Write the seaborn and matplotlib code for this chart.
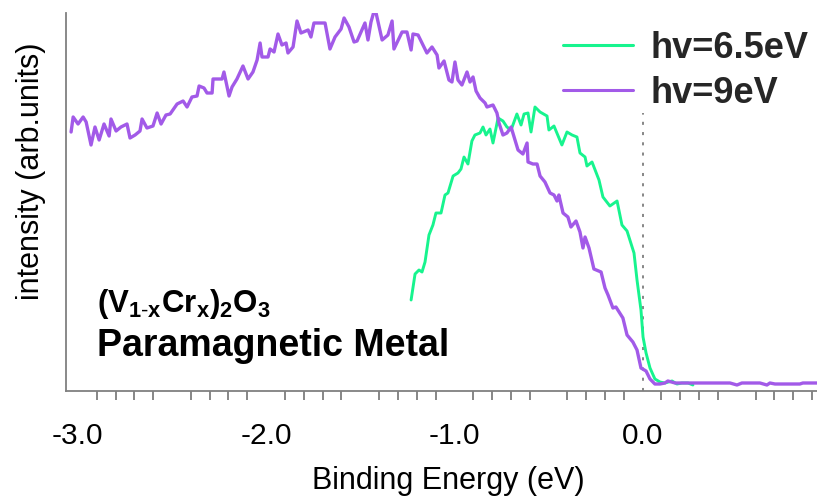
import matplotlib
matplotlib.use("Agg")
import matplotlib.pyplot as plt
from matplotlib.ticker import MultipleLocator, FuncFormatter
from matplotlib.lines import Line2D
import pandas as pd
import seaborn as sns

# Photoemission spectra of (V1-xCrx)2O3, binding energy in eV vs intensity (arb. units)
energy_9ev = [
    -3.036, -3.025, -2.999, -2.972, -2.956, -2.930, -2.909, -2.887, -2.861, -2.834,
    -2.824, -2.797, -2.771, -2.739, -2.723, -2.696, -2.670, -2.659, -2.633, -2.601,
    -2.579, -2.558, -2.532, -2.510, -2.473, -2.441, -2.420, -2.394, -2.367, -2.356,
    -2.330, -2.314, -2.287, -2.282, -2.234, -2.224, -2.197, -2.181, -2.155, -2.123,
    -2.096, -2.070, -2.048, -2.032, -2.022, -1.990, -1.979, -1.958, -1.937, -1.916,
    -1.894, -1.884, -1.857, -1.836, -1.815, -1.777, -1.762, -1.746, -1.687, -1.661,
    -1.634, -1.602, -1.586, -1.560, -1.533, -1.517, -1.475, -1.459, -1.443, -1.422,
    -1.384, -1.353, -1.331, -1.321, -1.278, -1.252, -1.230, -1.220, -1.193, -1.146,
    -1.119, -1.092, -1.082, -1.055, -1.029, -1.013, -0.997, -0.981, -0.960, -0.933,
    -0.917, -0.901, -0.885, -0.864, -0.837, -0.827, -0.795, -0.774, -0.763, -0.742,
    -0.721, -0.699, -0.678, -0.662, -0.636, -0.614, -0.609, -0.583, -0.561, -0.545,
    -0.519, -0.492, -0.471, -0.455, -0.445, -0.423, -0.397, -0.381, -0.354, -0.333,
    -0.317, -0.306, -0.285, -0.259, -0.221, -0.200, -0.184, -0.158, -0.142, -0.105,
    -0.083, -0.052, -0.030, -0.009, 0.018, 0.039, 0.065, 0.092, 0.118, 0.134,
    0.172, 0.225, 0.304, 0.384, 0.464, 0.501, 0.527, 0.623, 0.660, 0.676,
    0.703, 0.756, 0.835, 0.851, 0.926,
]
intensity_9ev = [
    259, 274, 267, 274, 269, 246, 264, 251, 267, 255,
    272, 260, 264, 267, 253, 256, 260, 272, 263, 265,
    278, 267, 276, 277, 287, 290, 284, 294, 295, 305,
    303, 298, 298, 312, 312, 319, 295, 304, 312, 325,
    312, 319, 331, 348, 334, 334, 342, 339, 357, 346,
    348, 338, 344, 370, 358, 361, 354, 368, 368, 342,
    354, 362, 373, 364, 349, 350, 368, 351, 369, 383,
    351, 356, 370, 342, 359, 359, 341, 357, 356, 338,
    344, 336, 323, 330, 311, 309, 329, 311, 306, 319,
    309, 314, 300, 293, 288, 284, 286, 278, 268, 256,
    258, 264, 251, 241, 237, 248, 229, 227, 227, 215,
    209, 198, 196, 190, 196, 178, 174, 164, 170, 159,
    143, 154, 143, 122, 119, 103, 96, 83, 84, 73,
    56, 49, 41, 23, 20, 12, 7, 7, 8, 10,
    8, 8, 8, 8, 8, 6, 8, 8, 6, 8,
    7, 7, 7, 8, 8,
]

energy_65ev = [
    -1.230, -1.209, -1.188, -1.172, -1.156, -1.135, -1.114, -1.098, -1.071, -1.050,
    -1.034, -1.007, -0.981, -0.965, -0.949, -0.928, -0.907, -0.891, -0.864, -0.848,
    -0.832, -0.811, -0.795, -0.768, -0.742, -0.721, -0.699, -0.668, -0.646, -0.630,
    -0.609, -0.593, -0.572, -0.545, -0.508, -0.498, -0.471, -0.429, -0.402, -0.375,
    -0.349, -0.333, -0.306, -0.296, -0.269, -0.232, -0.211, -0.174, -0.136, -0.110,
    -0.083, -0.046, -0.030, -0.009, 0.002, 0.018, 0.039, 0.065, 0.092, 0.118,
    0.156, 0.182, 0.209, 0.241, 0.267,
]
intensity_65ev = [
    91, 117, 121, 119, 129, 156, 166, 178, 178, 196,
    198, 215, 218, 222, 234, 227, 250, 256, 258, 264,
    256, 262, 248, 273, 270, 264, 261, 277, 266, 277,
    278, 259, 284, 279, 275, 261, 265, 246, 259, 256,
    254, 238, 234, 225, 229, 211, 194, 185, 190, 166,
    160, 138, 111, 81, 54, 38, 23, 12, 9, 8,
    10, 7, 8, 8, 6,
]

series_labels = ["hv=6.5eV", "hv=9eV"]
series_colors = ["#17F48E", "#A25AE8"]
fermi_level = 0.0
fermi_marker_top = 278

sns.set_theme(style="white")
plt.rcParams["font.family"] = ["Liberation Sans", "DejaVu Sans"]
plt.rcParams["axes.unicode_minus"] = False
plt.rcParams["mathtext.fontset"] = "custom"
plt.rcParams["mathtext.rm"] = "Liberation Sans"
plt.rcParams["mathtext.bf"] = "Liberation Sans:bold"
plt.rcParams["mathtext.it"] = "Liberation Sans:italic"

W, H = 817, 498
fig = plt.figure(figsize=(W / 100, H / 100), dpi=100)
ax = fig.add_axes([66 / W, 107 / H, (W - 66) / W, 378 / H])

df65 = pd.DataFrame({"energy": energy_65ev, "intensity": intensity_65ev})
df9 = pd.DataFrame({"energy": energy_9ev, "intensity": intensity_9ev})

sns.lineplot(data=df65, x="energy", y="intensity", ax=ax, color=series_colors[0],
             linewidth=2.1, estimator=None, sort=False)
sns.lineplot(data=df9, x="energy", y="intensity", ax=ax, color=series_colors[1],
             linewidth=2.4, estimator=None, sort=False)

# Fermi level marker
ax.vlines(fermi_level, 0, fermi_marker_top, colors="#666666", linewidth=1.1,
          linestyles=(0, (2, 4.7)), zorder=1)

ax.set_xlim(-3.063, 0.926)
ax.set_ylim(0, 378)

sns.despine(ax=ax, top=True, right=True)
for side in ("left", "bottom"):
    ax.spines[side].set_color("#808080")
    ax.spines[side].set_linewidth(1.3)

ax.set_yticks([])
ax.xaxis.set_major_locator(MultipleLocator(0.5))
ax.xaxis.set_minor_locator(MultipleLocator(0.1))
ax.xaxis.set_major_formatter(
    FuncFormatter(lambda v, p: f"{v:.1f}" if abs(v - round(v)) < 1e-6 else ""))
ax.tick_params(axis="x", which="major", direction="out", length=11.5, width=1.1,
               color="#666666", labelsize=21.5, pad=11, labelcolor="black")
ax.tick_params(axis="x", which="minor", direction="out", length=6.5, width=1.1,
               color="#666666", bottom=True)
fig.canvas.draw()
for t in ax.xaxis.get_major_ticks():
    v = t.get_loc()
    if abs(v - round(v)) > 1e-6:
        t.tick1line.set_markersize(8.5)

ax.set_xlabel("Binding Energy (eV)", fontsize=22, color="black")
ax.xaxis.set_label_coords((448 - 66) / (W - 66), (391 - 466) / 378)
ax.set_ylabel("intensity (arb.units)", fontsize=22, color="black")
ax.yaxis.set_label_coords((46 - 66) / (W - 66), (391 - 171) / 378)

handles = [Line2D([], [], color=c, linewidth=2.2) for c in series_colors]
ax.legend(handles, series_labels, loc="upper left",
          bbox_to_anchor=(563 / W, 1 - 31 / H), bbox_transform=fig.transFigure,
          frameon=False, borderpad=0, borderaxespad=0, handlelength=1.94,
          handletextpad=0.47, labelspacing=0.27,
          prop={"weight": "bold", "size": 26})

fig.text(97 / W, 1 - 312 / H, r"$\mathbf{(V_{1\text{-}x}Cr_{x})_{2}O_{3}}$",
         fontsize=22.5, ha="left", va="baseline", color="black")
fig.text(97 / W, 1 - 356 / H, "Paramagnetic Metal", fontsize=27,
         fontweight="bold", ha="left", va="baseline", color="black")

fig.savefig("out.png", dpi=100)
